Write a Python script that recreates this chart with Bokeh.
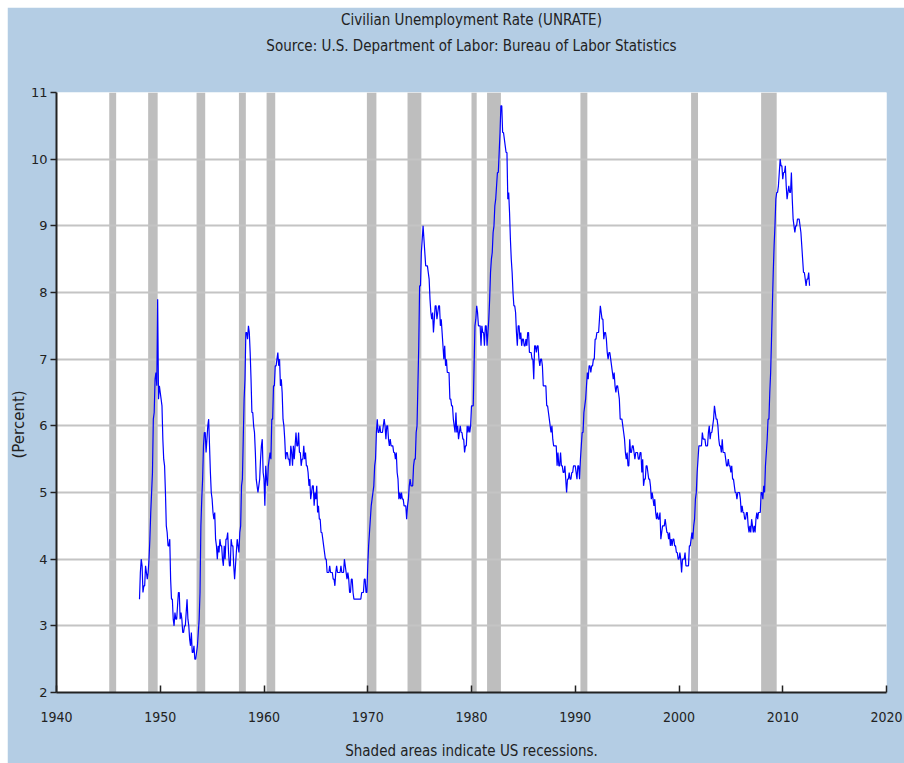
import numpy as np
from bokeh.plotting import figure
from bokeh.models import Range1d, FixedTicker, Title, LinearAxis, ColumnDataSource
from bokeh.embed import file_html
from bokeh.resources import INLINE

# Monthly civilian unemployment rate (percent), Jan 1948 onward
u_1948_1959 = [
    3.4, 3.8, 4.0, 3.9, 3.5, 3.6, 3.6, 3.9, 3.8, 3.7, 3.8, 4.0,
    4.3, 4.7, 5.0, 5.3, 6.1, 6.2, 6.7, 6.8, 6.6, 7.9, 6.4, 6.6,
    6.5, 6.4, 6.3, 5.8, 5.5, 5.4, 5.0, 4.5, 4.4, 4.2, 4.2, 4.3,
    3.7, 3.4, 3.4, 3.1, 3.0, 3.2, 3.1, 3.1, 3.3, 3.5, 3.5, 3.1,
    3.2, 3.1, 2.9, 2.9, 3.0, 3.0, 3.2, 3.4, 3.1, 3.0, 2.8, 2.7,
    2.9, 2.6, 2.6, 2.7, 2.5, 2.5, 2.6, 2.7, 2.9, 3.1, 3.5, 4.5,
    4.9, 5.2, 5.7, 5.9, 5.9, 5.6, 5.8, 6.0, 6.1, 5.7, 5.3, 5.0,
    4.9, 4.7, 4.6, 4.7, 4.3, 4.2, 4.0, 4.2, 4.1, 4.3, 4.2, 4.2,
    4.0, 3.9, 4.2, 4.0, 4.3, 4.3, 4.4, 4.1, 3.9, 3.9, 4.3, 4.2,
    4.2, 3.9, 3.7, 3.9, 4.1, 4.3, 4.2, 4.1, 4.4, 4.5, 5.1, 5.2,
    5.8, 6.4, 6.7, 7.4, 7.4, 7.3, 7.5, 7.4, 7.1, 6.7, 6.2, 6.2,
    6.0, 5.9, 5.6, 5.2, 5.1, 5.0, 5.1, 5.2, 5.5, 5.7, 5.8, 5.3,
]
u_1960s = [
    5.2, 4.8, 5.4, 5.2, 5.1, 5.4, 5.5, 5.6, 5.5, 6.1, 6.1, 6.6,
    6.6, 6.9, 6.9, 7.0, 7.1, 6.9, 7.0, 6.6, 6.7, 6.5, 6.1, 6.0,
    5.8, 5.5, 5.6, 5.6, 5.5, 5.5, 5.4, 5.7, 5.6, 5.4, 5.7, 5.5,
    5.7, 5.9, 5.7, 5.7, 5.9, 5.6, 5.6, 5.4, 5.5, 5.5, 5.7, 5.5,
    5.6, 5.4, 5.4, 5.3, 5.1, 5.2, 4.9, 5.0, 5.1, 5.1, 4.8, 5.0,
    4.9, 5.1, 4.7, 4.8, 4.6, 4.6, 4.4, 4.4, 4.3, 4.2, 4.1, 4.0,
    4.0, 3.8, 3.8, 3.8, 3.9, 3.8, 3.8, 3.8, 3.7, 3.7, 3.6, 3.8,
    3.9, 3.8, 3.8, 3.8, 3.8, 3.9, 3.8, 3.8, 3.8, 4.0, 3.9, 3.8,
    3.7, 3.8, 3.7, 3.5, 3.5, 3.7, 3.7, 3.5, 3.4, 3.4, 3.4, 3.4,
    3.4, 3.4, 3.4, 3.4, 3.4, 3.5, 3.5, 3.5, 3.7, 3.7, 3.5, 3.5,
]
u_1970s = [
    3.9, 4.2, 4.4, 4.6, 4.8, 4.9, 5.0, 5.1, 5.4, 5.5, 5.9, 6.1,
    5.9, 5.9, 6.0, 5.9, 5.9, 5.9, 6.0, 6.1, 6.0, 5.8, 6.0, 6.0,
    5.8, 5.7, 5.8, 5.7, 5.7, 5.7, 5.6, 5.6, 5.5, 5.6, 5.3, 5.2,
    4.9, 5.0, 4.9, 5.0, 4.9, 4.9, 4.8, 4.8, 4.8, 4.6, 4.8, 4.9,
    5.1, 5.2, 5.1, 5.1, 5.1, 5.4, 5.5, 5.5, 5.9, 6.0, 6.6, 7.2,
    8.1, 8.1, 8.6, 8.8, 9.0, 8.8, 8.6, 8.4, 8.4, 8.4, 8.3, 8.2,
    7.9, 7.7, 7.6, 7.7, 7.4, 7.6, 7.8, 7.8, 7.6, 7.7, 7.8, 7.8,
    7.5, 7.6, 7.4, 7.2, 7.0, 7.2, 6.9, 7.0, 6.8, 6.8, 6.8, 6.4,
    6.4, 6.3, 6.3, 6.1, 6.0, 5.9, 6.2, 5.9, 6.0, 5.8, 5.9, 6.0,
    5.9, 5.9, 5.8, 5.8, 5.6, 5.7, 5.7, 6.0, 5.9, 6.0, 5.9, 6.0,
]
u_1980s = [
    6.3, 6.3, 6.3, 6.9, 7.5, 7.6, 7.8, 7.7, 7.5, 7.5, 7.5, 7.2,
    7.5, 7.4, 7.4, 7.2, 7.5, 7.5, 7.2, 7.4, 7.6, 7.9, 8.3, 8.5,
    8.6, 8.9, 9.0, 9.3, 9.4, 9.6, 9.8, 9.8, 10.1, 10.4, 10.8, 10.8,
    10.4, 10.4, 10.3, 10.2, 10.1, 10.1, 9.4, 9.5, 9.2, 8.8, 8.5, 8.3,
    8.0, 7.8, 7.8, 7.7, 7.4, 7.2, 7.5, 7.5, 7.3, 7.4, 7.2, 7.3,
    7.3, 7.2, 7.2, 7.3, 7.2, 7.4, 7.4, 7.1, 7.1, 7.1, 7.0, 7.0,
    6.7, 7.2, 7.2, 7.1, 7.2, 7.2, 7.0, 6.9, 7.0, 7.0, 6.9, 6.6,
    6.6, 6.6, 6.6, 6.3, 6.3, 6.2, 6.1, 6.0, 5.9, 6.0, 5.8, 5.7,
    5.7, 5.7, 5.7, 5.4, 5.6, 5.4, 5.4, 5.6, 5.4, 5.4, 5.3, 5.3,
    5.4, 5.2, 5.0, 5.2, 5.2, 5.3, 5.2, 5.2, 5.3, 5.3, 5.4, 5.4,
]
u_1990s = [
    5.4, 5.3, 5.2, 5.4, 5.4, 5.2, 5.5, 5.7, 5.9, 5.9, 6.2, 6.3,
    6.4, 6.6, 6.8, 6.7, 6.9, 6.9, 6.8, 6.9, 6.9, 7.0, 7.0, 7.3,
    7.3, 7.4, 7.4, 7.4, 7.6, 7.8, 7.7, 7.6, 7.6, 7.3, 7.4, 7.4,
    7.3, 7.1, 7.0, 7.1, 7.1, 7.0, 6.9, 6.8, 6.7, 6.8, 6.6, 6.5,
    6.6, 6.6, 6.5, 6.4, 6.1, 6.1, 6.1, 6.0, 5.9, 5.8, 5.6, 5.5,
    5.6, 5.4, 5.4, 5.8, 5.6, 5.6, 5.7, 5.7, 5.6, 5.5, 5.6, 5.6,
    5.6, 5.5, 5.5, 5.6, 5.6, 5.3, 5.5, 5.1, 5.2, 5.2, 5.4, 5.4,
    5.3, 5.2, 5.2, 5.1, 4.9, 5.0, 4.9, 4.8, 4.9, 4.7, 4.6, 4.7,
    4.6, 4.6, 4.7, 4.3, 4.4, 4.5, 4.5, 4.5, 4.6, 4.5, 4.4, 4.4,
    4.3, 4.4, 4.2, 4.3, 4.2, 4.3, 4.3, 4.2, 4.2, 4.1, 4.1, 4.0,
]
u_2000s = [
    4.0, 4.1, 4.0, 3.8, 4.0, 4.0, 4.0, 4.1, 3.9, 3.9, 3.9, 3.9,
    4.2, 4.2, 4.3, 4.4, 4.3, 4.5, 4.6, 4.9, 5.0, 5.3, 5.5, 5.7,
    5.7, 5.7, 5.7, 5.9, 5.8, 5.8, 5.8, 5.7, 5.7, 5.7, 5.9, 6.0,
    5.8, 5.9, 5.9, 6.0, 6.1, 6.3, 6.2, 6.1, 6.1, 6.0, 5.8, 5.7,
    5.7, 5.6, 5.8, 5.6, 5.6, 5.6, 5.5, 5.4, 5.4, 5.5, 5.4, 5.4,
    5.3, 5.4, 5.2, 5.2, 5.1, 5.0, 5.0, 4.9, 5.0, 5.0, 5.0, 4.9,
    4.7, 4.8, 4.7, 4.7, 4.6, 4.6, 4.7, 4.7, 4.5, 4.4, 4.5, 4.4,
    4.6, 4.5, 4.4, 4.5, 4.4, 4.6, 4.7, 4.6, 4.7, 4.7, 4.7, 5.0,
    5.0, 4.9, 5.1, 5.0, 5.4, 5.6, 5.8, 6.1, 6.1, 6.5, 6.8, 7.3,
    7.8, 8.3, 8.7, 9.0, 9.4, 9.5, 9.5, 9.6, 9.8, 10.0, 9.9, 9.9,
]
u_2010_2012 = [
    9.7, 9.8, 9.8, 9.9, 9.6, 9.4, 9.5, 9.6, 9.5, 9.5, 9.8, 9.4,
    9.1, 9.0, 8.9, 9.0, 9.0, 9.1, 9.1, 9.1, 9.0, 8.9, 8.7, 8.5,
    8.3, 8.3, 8.2, 8.1, 8.2, 8.2, 8.3, 8.1,
]
first_year = 1948

# US recessions (peak month, trough month) as (year, month)
rec_start = [(1945, 2), (1948, 11), (1953, 7), (1957, 8), (1960, 4), (1969, 12),
             (1973, 11), (1980, 1), (1981, 7), (1990, 7), (2001, 3), (2007, 12)]
rec_end = [(1945, 10), (1949, 10), (1954, 5), (1958, 4), (1961, 2), (1970, 11),
           (1975, 3), (1980, 7), (1982, 11), (1991, 3), (2001, 11), (2009, 6)]

x_ticks = [1940, 1950, 1960, 1970, 1980, 1990, 2000, 2010, 2020]
y_ticks = [2, 3, 4, 5, 6, 7, 8, 9, 10, 11]

title_1 = "Civilian Unemployment Rate (UNRATE)"
title_2 = "Source: U.S. Department of Labor: Bureau of Labor Statistics"
y_label = "(Percent)"
footer = "Shaded areas indicate US recessions."

# ---------------------------------------------------------------
rate = np.array(u_1948_1959 + u_1960s + u_1970s + u_1980s + u_1990s + u_2000s + u_2010_2012)
dates = first_year + np.arange(len(rate)) / 12.0

def ym(t):
    return t[0] + (t[1] - 1) / 12.0

rec_src = ColumnDataSource(dict(
    left=[ym(t) for t in rec_start],
    right=[ym(t) for t in rec_end],
))
line_src = ColumnDataSource(dict(x=dates, y=rate))

BG = "#B4CDE4"
COND = "DejaVu Sans Condensed"
TXT = "#222222"

p = figure(width=897, height=756,
           x_range=Range1d(x_ticks[0], x_ticks[-1]),
           y_range=Range1d(y_ticks[0], y_ticks[-1]),
           output_backend="svg", toolbar_location=None,
           min_border_left=49, min_border_right=18,
           min_border_top=85, min_border_bottom=71)
p.margin = (7, 0, 0, 7)
p.background_fill_color = "white"
p.border_fill_color = BG
p.outline_line_color = None

ymin, ymax = y_ticks[0], y_ticks[-1]
rec = p.quad(left="left", right="right", bottom=ymin, top=ymax, source=rec_src,
             fill_color="#BEBEBE", line_color=None)
rec.level = "underlay"

p.line("x", "y", source=line_src, line_color="#0000FF", line_width=1.2)

p.xgrid.grid_line_color = None
p.ygrid.grid_line_color = "#C4C4C4"
p.ygrid.grid_line_width = 2
p.ygrid.ticker = FixedTicker(ticks=y_ticks)

p.xaxis.ticker = FixedTicker(ticks=x_ticks)
p.xaxis.major_tick_in = 7
p.xaxis.major_tick_out = 0
p.xaxis.minor_tick_line_color = None
p.xaxis.axis_line_width = 2
p.xaxis.major_tick_line_width = 1.5
p.xaxis.axis_line_color = TXT
p.xaxis.major_tick_line_color = TXT
p.xaxis.major_label_text_font = COND
p.xaxis.major_label_text_font_size = "14px"
p.xaxis.major_label_text_color = TXT
p.xaxis.major_label_standoff = 19
# footer note as the x axis label
p.xaxis.axis_label = footer
p.xaxis.axis_label_standoff = 17
p.xaxis.axis_label_text_font = COND
p.xaxis.axis_label_text_font_size = "15px"
p.xaxis.axis_label_text_font_style = "normal"
p.xaxis.axis_label_text_color = TXT

p.yaxis.ticker = FixedTicker(ticks=y_ticks)
p.yaxis.major_tick_in = 0
p.yaxis.major_tick_out = 6
p.yaxis.minor_tick_line_color = None
p.yaxis.axis_line_width = 2
p.yaxis.axis_line_color = TXT
p.yaxis.major_tick_line_color = TXT
p.yaxis.major_tick_line_width = 1.5
p.yaxis.major_label_text_font = "DejaVu Sans"
p.yaxis.major_label_text_font_size = "13px"
p.yaxis.major_label_text_color = TXT
p.yaxis.major_label_standoff = 3


def text_axis(label, standoff):
    ax = LinearAxis(ticker=FixedTicker(ticks=[]), axis_label=label,
                    axis_label_standoff=standoff, axis_label_text_font=COND,
                    axis_label_text_font_size="15px", axis_label_text_font_style="normal",
                    axis_label_text_color=TXT, axis_line_color=None,
                    major_tick_line_color=None, minor_tick_line_color=None,
                    major_tick_in=0, major_tick_out=0, minor_tick_in=0, minor_tick_out=0,
                    major_label_standoff=0)
    p.add_layout(ax, "above")

text_axis(title_2, 38)   # nearest the plot
text_axis(title_1, 5)    # above it

# y axis title, placed from the bottom of the plot area upward
p.add_layout(Title(text=y_label, align="left", offset=234, text_font="DejaVu Sans",
                   text_font_size="15px", text_font_style="normal", text_color=TXT,
                   standoff=0), "left")

open("out.html", "w").write(file_html(p, INLINE))
